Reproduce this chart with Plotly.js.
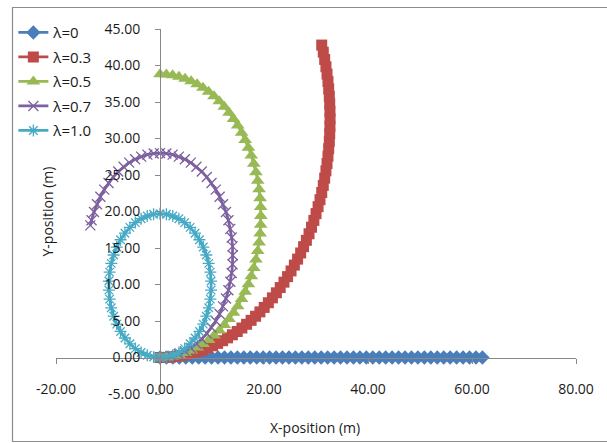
<!DOCTYPE html>
<html>
<head>
<meta charset="utf-8">
<script src="https://cdn.plot.ly/plotly-3.0.1.min.js"></script>
<style>
html,body{margin:0;padding:0;background:#fff;}
#chart{width:607px;height:443px;}
</style>
</head>
<body>
<div id="chart"></div>
<script>
// Series names
const seriesNames = ["λ=0", "λ=0.3", "λ=0.5", "λ=0.7", "λ=1.0"];

// λ=0
const x0 = [0,1.24,2.48,3.72,4.96,6.2,7.44,8.68,9.92,11.16,12.4,13.64,14.88,16.12,17.36,18.6,19.84,21.08,22.32,23.56,24.8,26.04,27.28,28.52,29.76,31,32.24,33.48,34.72,35.96,37.2,38.44,39.68,40.92,42.16,43.4,44.64,45.88,47.12,48.36,49.6,50.84,52.08,53.32,54.56,55.8,57.04,58.28,59.52,60.76,62];
const y0 = [0,0,0,0,0,0,0,0,0,0,0,0,0,0,0,0,0,0,0,0,0,0,0,0,0,0,0,0,0,0,0,0,0,0,0,0,0,0,0,0,0,0,0,0,0,0,0,0,0,0,0];

// λ=0.3
const x03 = [0,1.03,2.05,3.08,4.10,5.12,6.13,7.13,8.13,9.12,10.11,11.08,12.04,12.99,13.92,14.85,15.75,16.65,17.52,18.38,19.22,20.04,20.84,21.62,22.38,23.12,23.84,24.53,25.20,25.84,26.46,27.05,27.61,28.15,28.66,29.14,29.59,30.01,30.40,30.77,31.10,31.40,31.67,31.91,32.12,32.30,32.44,32.56,32.64,32.68,32.70,32.68,32.64,32.56,32.44,32.30,32.12,31.91,31.67,31.40,31.10];
const y03 = [0,0.02,0.06,0.15,0.26,0.40,0.58,0.79,1.03,1.30,1.60,1.93,2.30,2.69,3.11,3.56,4.04,4.55,5.09,5.65,6.25,6.86,7.50,8.17,8.86,9.58,10.32,11.08,11.86,12.66,13.48,14.32,15.18,16.05,16.95,17.85,18.78,19.71,20.66,21.62,22.60,23.58,24.57,25.57,26.57,27.58,28.60,29.62,30.65,31.67,32.70,33.73,34.75,35.78,36.80,37.82,38.83,39.83,40.83,41.82,42.80];

// λ=0.5
const x05 = [0,1.22,2.43,3.64,4.82,5.99,7.14,8.26,9.35,10.39,11.40,12.37,13.28,14.14,14.95,15.69,16.38,17.00,17.55,18.04,18.45,18.79,19.06,19.25,19.36,19.40,19.36,19.25,19.06,18.79,18.45,18.04,17.55,17.00,16.38,15.69,14.95,14.14,13.28,12.37,11.40,10.39,9.35,8.26,7.14,5.99,4.82,3.64,2.43,1.22,0];
const y05 = [0,0.04,0.15,0.34,0.61,0.95,1.36,1.85,2.40,3.02,3.71,4.45,5.26,6.12,7.03,8.00,9.01,10.05,11.14,12.26,13.41,14.58,15.76,16.97,18.18,19.40,20.62,21.83,23.04,24.22,25.39,26.54,27.66,28.75,29.79,30.80,31.77,32.68,33.54,34.35,35.09,35.78,36.40,36.95,37.44,37.85,38.19,38.46,38.65,38.76,38.80];

// λ=0.7
const x07 = [0,1.22,2.43,3.62,4.79,5.92,7.00,8.03,9.00,9.90,10.72,11.47,12.12,12.69,13.16,13.52,13.79,13.95,14.00,13.95,13.79,13.52,13.16,12.69,12.12,11.47,10.72,9.90,9.00,8.03,7.00,5.92,4.79,3.62,2.43,1.22,0,-1.22,-2.43,-3.62,-4.79,-5.92,-7.00,-8.03,-9.00,-9.90,-10.72,-11.47,-12.12,-12.69,-13.16,-13.40];
const y07 = [0,0.05,0.21,0.48,0.84,1.31,1.88,2.53,3.28,4.10,5.00,5.97,7.00,8.08,9.21,10.38,11.57,12.78,14.00,15.22,16.43,17.62,18.79,19.92,21.00,22.03,23.00,23.90,24.72,25.47,26.12,26.69,27.16,27.52,27.79,27.95,28.00,27.95,27.79,27.52,27.16,26.69,26.12,25.47,24.72,23.90,23.00,22.03,21.00,19.92,18.79,18.10];

// λ=1.0
const x10 = [0,1.23,2.45,3.63,4.75,5.79,6.74,7.59,8.32,8.91,9.37,9.68,9.83,9.83,9.68,9.37,8.91,8.32,7.59,6.74,5.79,4.75,3.63,2.45,1.23,0,-1.23,-2.45,-3.63,-4.75,-5.79,-6.74,-7.59,-8.32,-8.91,-9.37,-9.68,-9.83,-9.83,-9.68,-9.37,-8.91,-8.32,-7.59,-6.74,-5.79,-4.75,-3.63,-2.45,-1.23,0];
const y10 = [0,0.08,0.31,0.69,1.22,1.88,2.67,3.57,4.57,5.66,6.81,8.00,9.23,10.47,11.70,12.89,14.04,15.13,16.13,17.03,17.82,18.48,19.01,19.39,19.62,19.70,19.62,19.39,19.01,18.48,17.82,17.03,16.13,15.13,14.04,12.89,11.70,10.47,9.23,8.00,6.81,5.66,4.57,3.57,2.67,1.88,1.22,0.69,0.31,0.08,0];

// Axis ticks and labels
const xTicks = [-20, 0, 20, 40, 60, 80];
const xTickText = ["-20.00", "0.00", "20.00", "40.00", "60.00", "80.00"];
const yTicks = [-5, 0, 5, 10, 15, 20, 25, 30, 35, 40, 45];
const yTickText = ["-5.00", "0.00", "5.00", "10.00", "15.00", "20.00", "25.00", "30.00", "35.00", "40.00", "45.00"];

const xs = [x0, x03, x05, x07, x10];
const ys = [y0, y03, y05, y07, y10];
const colors = ["#4A7EBB", "#BE4B48", "#98B954", "#7D60A0", "#46AAC5"];
const symbols = ["diamond", "square", "triangle-up", "x-thin-open", "asterisk-open"];
const sizes = [11, 11, 12, 10, 10];

const traces = seriesNames.map((name, i) => ({
  type: "scatter",
  mode: "lines+markers",
  name: name,
  legendgroup: "g" + i,
  x: xs[i],
  y: ys[i],
  line: {color: colors[i], width: 2.75},
  marker: {
    symbol: symbols[i],
    size: sizes[i],
    color: colors[i],
    line: {color: colors[i], width: (i >= 3 ? 1.3 : 0)}
  }
}));

const axisColor = "#888888";
const fontFam = "'Open Sans', 'Noto Sans', sans-serif";
const txtColor = "#1a1a1a";

const layout = {
  width: 607,
  height: 443,
  margin: {l: 56, r: 31, t: 29, b: 49},
  paper_bgcolor: "#ffffff",
  plot_bgcolor: "rgba(0,0,0,0)",
  font: {family: fontFam, size: 14, color: txtColor},
  showlegend: true,
  legend: {
    x: -0.082, y: 1.035, xanchor: "left", yanchor: "top",
    bgcolor: "rgba(0,0,0,0)",
    font: {family: fontFam, size: 15, color: txtColor},
    tracegroupgap: 2,
    traceorder: "grouped"
  },
  xaxis: {
    range: [-20, 80],
    tickvals: xTicks,
    ticktext: xTickText,
    anchor: "free",
    position: 0.1,
    showline: true,
    linecolor: axisColor,
    linewidth: 1,
    ticks: "outside",
    ticklen: 5,
    tickcolor: axisColor,
    ticklabelstandoff: 14,
    showgrid: false,
    zeroline: false,
    tickfont: {family: fontFam, size: 14, color: txtColor}
  },
  yaxis: {
    range: [-5, 45],
    tickvals: yTicks,
    ticktext: yTickText,
    anchor: "free",
    position: 0.2,
    showline: true,
    linecolor: axisColor,
    linewidth: 1,
    ticks: "outside",
    ticklen: 5,
    tickcolor: axisColor,
    ticklabelstandoff: 12,
    showgrid: false,
    zeroline: false,
    tickfont: {family: fontFam, size: 14, color: txtColor}
  },
  annotations: [
    {text: "X-position (m)", xref: "paper", yref: "paper", x: 0.498, y: -0.093,
     xanchor: "center", yanchor: "middle", showarrow: false,
     font: {family: fontFam, size: 14, color: txtColor}},
    {text: "Y-position (m)", xref: "paper", yref: "paper", x: -0.0173, y: 0.5,
     xanchor: "center", yanchor: "middle", textangle: -90, showarrow: false,
     font: {family: fontFam, size: 14, color: txtColor}}
  ],
  shapes: [
    {type: "rect", xref: "paper", yref: "paper",
     x0: (12.5 - 56) / 520, x1: (612 - 56) / 520,
     y0: (394 - 441.5) / 365, y1: (394 - 7.5) / 365,
     line: {color: "#8c8c8c", width: 1.2}, fillcolor: "rgba(0,0,0,0)", layer: "below"}
  ]
};

Plotly.newPlot("chart", traces, layout, {displayModeBar: false, staticPlot: true});
</script>
</body>
</html>
